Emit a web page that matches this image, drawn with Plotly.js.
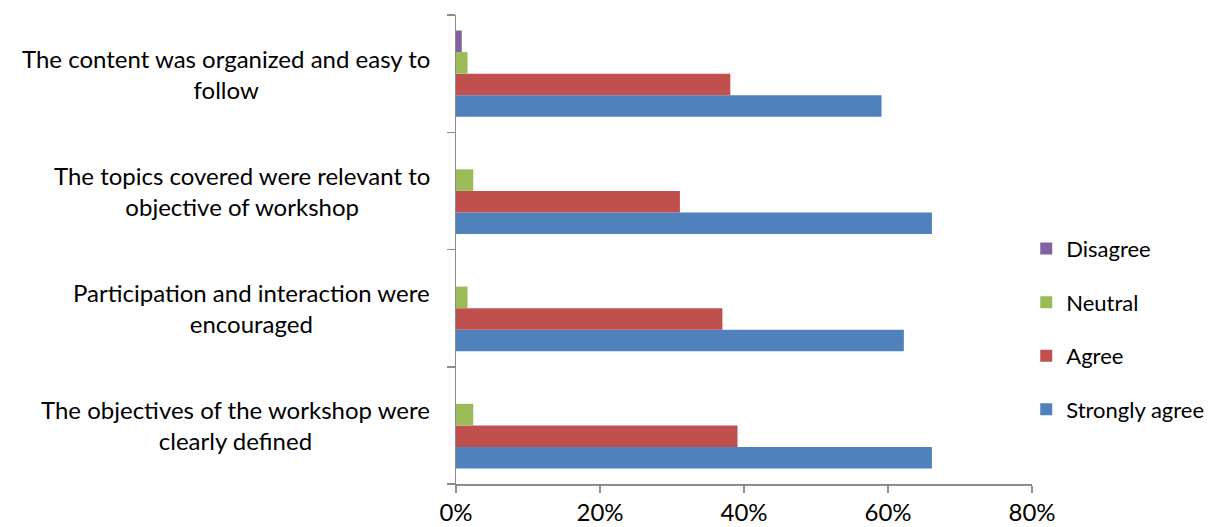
<!DOCTYPE html>
<html>
<head>
<meta charset="utf-8">
<script src="https://cdn.plot.ly/plotly-3.0.1.min.js"></script>
<style>html,body{margin:0;padding:0;background:#fff;}#chart{width:1227px;height:527px;}</style>
</head>
<body>
<div id="chart"></div>
<script>
const categories = [
  "The objectives of the workshop were<br>clearly defined",
  "Participation and interaction were<br>encouraged",
  "The topics covered were relevant to<br>objective of workshop",
  "The content was organized and easy to<br>follow"
];
const seriesNames = ["Strongly agree", "Agree", "Neutral", "Disagree"];
const stronglyAgree = [66.1, 62.2, 66.1, 59.1];
const agree = [39.1, 37.0, 31.1, 38.1];
const neutral = [2.4, 1.6, 2.4, 1.6];
const disagree = [0, 0, 0, 0.8];
const xTickVals = [0, 20, 40, 60, 80];
const xTickText = ["0%", "20%", "40%", "60%", "80%"];

const colors = ["#4F81BD", "#C0504D", "#9BBB59", "#8064A2"];
const values = [stronglyAgree, agree, neutral, disagree];
const FONT = "Lato, 'Open Sans', sans-serif";
const FS = 24;

const traces = values.map((v, i) => ({
  type: "bar",
  orientation: "h",
  name: seriesNames[i],
  x: v,
  y: categories,
  legendgroup: "g" + i,
  legendrank: 100 - i,
  marker: {color: colors[i], line: {width: 0}},
  hoverinfo: "x+name"
}));

const annotations = categories.map(c => ({
  text: c,
  x: -0.042,
  xref: "paper",
  xanchor: "right",
  y: c,
  yref: "y",
  yanchor: "middle",
  align: "center",
  showarrow: false,
  font: {family: FONT, size: FS, color: "#000"}
}));

const layout = {
  width: 1227,
  height: 527,
  margin: {l: 456, r: 195, t: 15, b: 43, pad: 0},
  paper_bgcolor: "#fff",
  plot_bgcolor: "#fff",
  barmode: "group",
  bargap: 0.265,
  bargroupgap: 0,
  showlegend: true,
  font: {family: FONT, size: FS, color: "#000"},
  legend: {
    x: 0.99, xanchor: "left",
    y: 0.33, yanchor: "middle",
    traceorder: "grouped",
    tracegroupgap: 22,
    font: {family: FONT, size: 22, color: "#000"},
    itemwidth: 30
  },
  xaxis: {
    range: [0, 80],
    tickvals: xTickVals,
    ticktext: xTickText,
    showgrid: false,
    zeroline: false,
    showline: true,
    linecolor: "#8c8c8c",
    linewidth: 1.5,
    ticks: "outside",
    ticklen: 7,
    tickcolor: "#8c8c8c",
    tickwidth: 1.5,
    tickfont: {family: FONT, size: FS, color: "#000"},
    fixedrange: true
  },
  yaxis: {
    type: "category",
    categoryorder: "array",
    categoryarray: categories,
    showticklabels: false,
    showgrid: false,
    zeroline: false,
    showline: true,
    linecolor: "#8c8c8c",
    linewidth: 1.5,
    ticks: "outside",
    tickson: "boundaries",
    ticklen: 8,
    tickcolor: "#8c8c8c",
    tickwidth: 1.5,
    fixedrange: true
  },
  annotations: annotations
};

Plotly.newPlot("chart", traces, layout, {displayModeBar: false, staticPlot: true});
</script>
</body>
</html>
